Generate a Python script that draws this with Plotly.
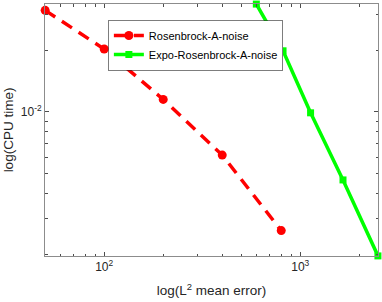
import plotly.graph_objects as go
import math

# Data
rosen_err = [50, 100, 200, 400, 800]
rosen_cpu = [0.0314, 0.0203, 0.0115, 0.00614, 0.00262]
expo_err = [597, 817, 1129, 1652, 2490]
expo_cpu = [0.0337, 0.0199, 0.00989, 0.00464, 0.00197]

x_major = [100, 1000]
x_major_text = ["10<sup>2</sup>", "10<sup>3</sup>"]
y_major = [0.01]
y_major_text = ["10<sup>-2</sup>"]

x_minor = [60, 70, 80, 90, 200, 300, 400, 500, 600, 700, 800, 900, 2000]
y_minor = [0.002, 0.003, 0.004, 0.005, 0.006, 0.007, 0.008, 0.009, 0.02, 0.03]

FONT = "Liberation Sans, Arial, sans-serif"

fig = go.Figure()
fig.add_trace(go.Scatter(
    x=rosen_err, y=rosen_cpu, mode="lines+markers", name="Rosenbrock-A-noise",
    line=dict(color="#ff0000", width=3.5, dash="12px,8px"),
    marker=dict(symbol="circle", size=9, color="#ff0000"),
    cliponaxis=False,
))
fig.add_trace(go.Scatter(
    x=expo_err, y=expo_cpu, mode="lines+markers", name="Expo-Rosenbrock-A-noise",
    line=dict(color="#00ff00", width=3.5),
    marker=dict(symbol="square", size=7, color="#00ff00"),
    cliponaxis=False,
))

axis_common = dict(
    showgrid=False, zeroline=False, showline=True, linecolor="#8c8c8c", linewidth=1,
    mirror="allticks", ticks="inside", ticklen=4, tickcolor="#4d4d4d", tickwidth=1,
    tickfont=dict(family=FONT, size=12, color="#262626"),
    automargin=False,
)

fig.update_xaxes(
    type="log", range=[math.log10(49.9), math.log10(2492)],
    tickmode="array", tickvals=x_major, ticktext=x_major_text,
    minor=dict(tickmode="array", tickvals=x_minor, ticks="inside", ticklen=2.5,
               tickcolor="#4d4d4d", tickwidth=1),
    title=dict(text="log(L<sup>2</sup> mean error)", standoff=12,
               font=dict(family=FONT, size=13.5, color="#262626")),
    **axis_common,
)
fig.update_yaxes(
    type="log", range=[math.log10(0.001968), math.log10(0.03373)],
    tickmode="array", tickvals=y_major, ticktext=y_major_text,
    minor=dict(tickmode="array", tickvals=y_minor, ticks="inside", ticklen=2.5,
               tickcolor="#4d4d4d", tickwidth=1),
    title=dict(text="log(CPU time)", standoff=4,
               font=dict(family=FONT, size=13.5, color="#262626")),
    **axis_common,
)

fig.update_layout(
    width=382, height=302,
    margin=dict(l=45, r=4, t=4, b=46),
    paper_bgcolor="white", plot_bgcolor="white",
    showlegend=True,
    legend=dict(
        x=0.19, y=0.935, xanchor="left", yanchor="top",
        bgcolor="white", bordercolor="#262626", borderwidth=0.6,
        font=dict(family=FONT, size=11, color="#000000"),
        tracegroupgap=0, itemwidth=30,
    ),
)

fig.write_html(
    "out.html",
    config={"displayModeBar": False},
    post_script="document.body.style.margin='0';document.body.style.padding='0';document.body.style.overflow='hidden';",
)
